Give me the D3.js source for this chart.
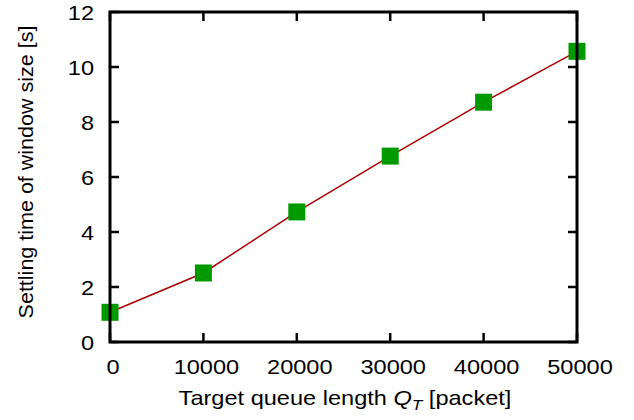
<!DOCTYPE html>
<html>
<head>
<meta charset="utf-8">
<script src="https://cdn.jsdelivr.net/npm/d3@7"></script>
<style>
body { margin: 0; background: #fff; }
text { font-family: "Liberation Sans", Arial, sans-serif; fill: #000; }
</style>
</head>
<body>
<svg id="chart"></svg>
<script>
var queueLen = [0, 10000, 20000, 30000, 40000, 50000];
var settleTime = [1.08, 2.51, 4.73, 6.76, 8.72, 10.57];
var xTicks = [0, 10000, 20000, 30000, 40000, 50000];
var yTicks = [0, 2, 4, 6, 8, 10, 12];

var dims = { width: 634, height: 420, left: 110, right: 577, top: 12, bottom: 342, tick: 9, fontSize: 20.5, stretch: 1.15 };

var svg = d3.select('#chart').attr('width', dims.width).attr('height', dims.height);

var x = d3.scaleLinear().domain([0, 50000]).range([dims.left, dims.right]);
var y = d3.scaleLinear().domain([0, 12]).range([dims.bottom, dims.top]);

// stretched text like the original postscript font
function label(px, py, anchor, rot) {
	return svg.append('text')
		.attr('transform', 'translate(' + px + ',' + py + ')' + (rot ? ' rotate(' + rot + ')' : '') + ' scale(' + (rot ? 1.05 : dims.stretch) + ',1)')
		.attr('text-anchor', anchor)
		.attr('font-size', dims.fontSize);
}

var ticks = svg.append('g').attr('stroke', '#000').attr('stroke-width', 2.5);

xTicks.forEach(function(t) {
	ticks.append('line').attr('x1', x(t)).attr('x2', x(t)).attr('y1', dims.bottom).attr('y2', dims.bottom - dims.tick);
	ticks.append('line').attr('x1', x(t)).attr('x2', x(t)).attr('y1', dims.top).attr('y2', dims.top + dims.tick);
	label(x(t) + 3, 374, 'middle').text(t);
});
yTicks.forEach(function(t) {
	ticks.append('line').attr('x1', dims.left).attr('x2', dims.left + dims.tick).attr('y1', y(t)).attr('y2', y(t));
	ticks.append('line').attr('x1', dims.right).attr('x2', dims.right - dims.tick).attr('y1', y(t)).attr('y2', y(t));
	label(94, y(t) + 8, 'end').text(t);
});

var line = d3.line().x(function(d, i) { return x(queueLen[i]); }).y(function(d) { return y(d); });
svg.append('path').datum(settleTime).attr('d', line)
	.attr('fill', 'none').attr('stroke', '#aa0000').attr('stroke-width', 1.5);

var sz = 17;
svg.selectAll('rect.pt').data(settleTime).enter().append('rect')
	.attr('class', 'pt')
	.attr('x', function(d, i) { return x(queueLen[i]) - sz / 2; })
	.attr('y', function(d) { return y(d) - sz / 2; })
	.attr('width', sz).attr('height', sz)
	.attr('fill', '#009900');

svg.append('rect').attr('x', dims.left).attr('y', dims.top)
	.attr('width', dims.right - dims.left).attr('height', dims.bottom - dims.top)
	.attr('fill', 'none').attr('stroke', '#000').attr('stroke-width', 3);

var xl = label(345, 405, 'middle');
xl.append('tspan').text('Target queue length ');
xl.append('tspan').attr('font-style', 'italic').text('Q');
xl.append('tspan').attr('font-style', 'italic').attr('font-size', 15).attr('dy', 5).text('T');
xl.append('tspan').attr('dy', -5).text(' [packet]');

label(33, 172, 'middle', -90).text('Settling time of window size [s]');
</script>
</body>
</html>
